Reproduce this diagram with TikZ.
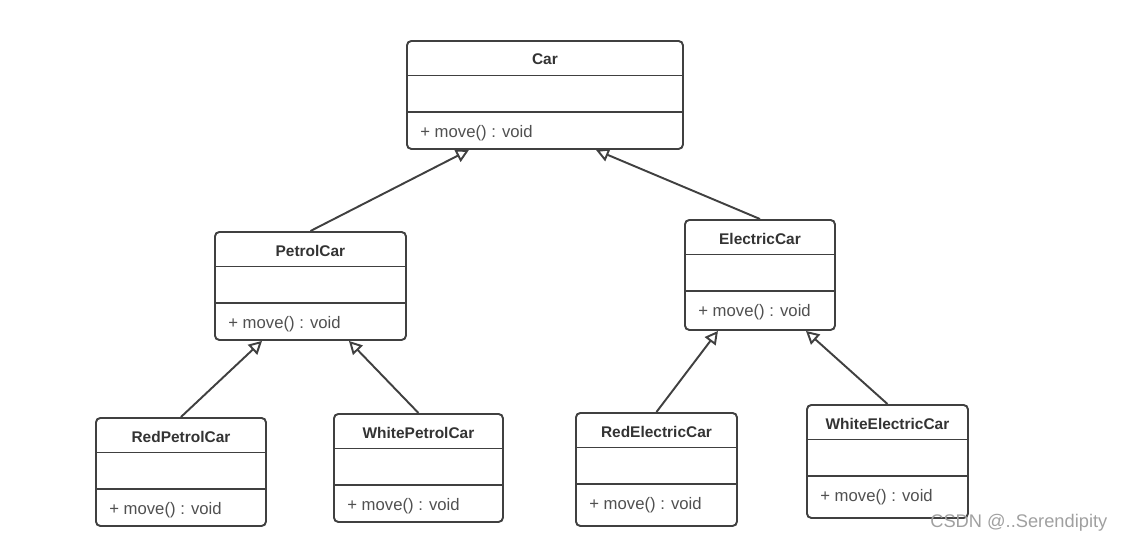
\documentclass[tikz,border=0pt]{standalone}
\usepackage{fontspec}
\setmainfont{Liberation Sans}
\usepackage{xcolor}
\usepackage{tikz}
\usetikzlibrary{arrows.meta}

\definecolor{umlline}{HTML}{404040}
\definecolor{umltext}{HTML}{333333}
\definecolor{umlop}{HTML}{505050}
\definecolor{markgray}{HTML}{A0A0A0}

\tikzset{edge/.style = {draw=umlline, line width=1.1pt, -{Triangle[open, length=0.26cm, width=0.27cm]}}}

% one class box: name, left, top, width, height (in px), title
\newcommand{\umlclass}[6]{%
  \node[classbox, minimum width=#4*0.02cm, minimum height=#5*0.02cm, anchor=north west] (#1) at (#2,#3) {};
  \draw[classline] ([yshift=-0.71cm]#1.north west) -- ([yshift=-0.71cm]#1.north east);
  \draw[classline] ([yshift=-1.44cm]#1.north west) -- ([yshift=-1.44cm]#1.north east);
  \node[classname] (#1-name) at ([yshift=-0.39cm]#1.north) {#6};
  \node[classop, anchor=west] (#1-op) at ([xshift=0.28cm,yshift=-1.87cm]#1.north west) {+ move() : void};
}

\begin{document}
\begin{tikzpicture}[x=0.02cm, y=-0.02cm,
    classbox/.style={draw=umlline, line width=1.1pt, rounded corners=2.5pt, fill=white, inner sep=0pt},
    classline/.style={draw=umlline, line width=1.1pt},
    classname/.style={inner sep=0pt, text=umltext, font=\fontsize{8.8}{10}\selectfont\bfseries},
    classop/.style={inner sep=0pt, text=umlop, font=\fontsize{9.5}{11}\selectfont}]
            \useasboundingbox (0,0) rectangle (1123,542);

            \umlclass{car}{406}{40}{276}{108}{Car}
            \umlclass{petrol}{214}{231}{191}{108}{PetrolCar}
            \umlclass{electric}{684}{219}{150}{110}{ElectricCar}
            \umlclass{redpetrol}{95}{417}{170}{108}{RedPetrolCar}
            \umlclass{whitepetrol}{333}{413}{169}{108}{WhitePetrolCar}
            \umlclass{redelectric}{575}{412}{161}{113}{RedElectricCar}
            \umlclass{whiteelectric}{806}{404}{161}{113}{WhiteElectricCar}

            \path (petrol.north) edge[edge] ([xshift=-1.52cm]car.south);
            \path (electric.north) edge[edge] ([xshift=1.02cm]car.south);
            \path (redpetrol.north) edge[edge] ([xshift=-0.97cm]petrol.south);
            \path (whitepetrol.north) edge[edge] ([xshift=0.77cm]petrol.south);
            \path (redelectric.north) edge[edge] ([xshift=-0.84cm]electric.south);
            \path (whiteelectric.north) edge[edge] ([xshift=0.92cm]electric.south);

            \node[anchor=west, inner sep=0pt, text=markgray, font=\fontsize{10.4}{12}\selectfont] (mark) at (930,523) {CSDN @..Serendipity};
        \end{tikzpicture}
\end{document}
